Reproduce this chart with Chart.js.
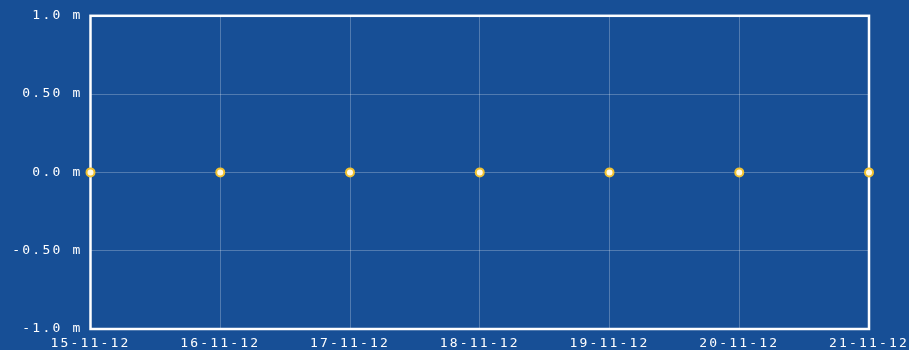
<!DOCTYPE html>
<html>
<head>
<meta charset="utf-8">
<script src="https://cdn.jsdelivr.net/npm/chart.js@4"></script>
<style>
  html, body { margin: 0; padding: 0; background: #174f96; }
  #wrap { width: 909px; height: 350px; }
</style>
</head>
<body>
<div id="wrap"><canvas id="grafico"></canvas></div>
<script>
const fechas = ["15-11-12", "16-11-12", "17-11-12", "18-11-12", "19-11-12", "20-11-12", "21-11-12"];
const altura = [0, 0, 0, 0, 0, 0, 0];
const valoresY = [-1, -0.5, 0, 0.5, 1];
const etiquetasY = ["-1.0 m", "-0.50 m", "0.0 m", "0.50 m", "1.0 m"];

const fuente = { family: "'DejaVu Sans Mono', monospace", size: 13 };

const marco = {
    id: 'marco',
    beforeDraw(chart) {
        chart.ctx.letterSpacing = '2.2px';
    },
    beforeDatasetsDraw(chart) {
        const { ctx, chartArea } = chart;
        ctx.save();
        ctx.strokeStyle = '#ffffff';
        ctx.lineWidth = 2.5;
        ctx.strokeRect(chartArea.left, chartArea.top, chartArea.right - chartArea.left, chartArea.bottom - chartArea.top);
        ctx.restore();
    }
};

const config = {
    type: 'line',
    data: {
        labels: fechas,
        datasets: [{
            data: altura,
            borderColor: 'rgba(0,0,0,0)',
            showLine: false,
            pointRadius: 4,
            pointBorderWidth: 2,
            pointBorderColor: '#f2c230',
            pointBackgroundColor: '#fffbe8'
        }]
    },
    options: {
        responsive: true,
        maintainAspectRatio: false,
        animation: false,
        layout: { padding: { top: 14, right: 40, left: 0, bottom: 0 } },
        plugins: {
            legend: { display: false },
            tooltip: { enabled: false }
        },
        scales: {
            x: {
                type: 'category',
                offset: false,
                grid: { color: 'rgba(255,255,255,0.25)', drawTicks: false },
                border: { display: false },
                ticks: { color: '#ffffff', font: fuente, padding: 7, maxRotation: 0, autoSkip: false },
                afterFit(scale) { scale.height = 21; }
            },
            y: {
                min: -1,
                max: 1,
                grid: { color: 'rgba(255,255,255,0.25)', drawTicks: false },
                border: { display: false },
                ticks: {
                    color: '#ffffff',
                    font: fuente,
                    padding: 8,
                    stepSize: 0.5,
                    callback: (v) => {
                        const i = valoresY.findIndex(x => Math.abs(x - v) < 1e-9);
                        return i >= 0 ? etiquetasY[i] : '';
                    }
                },
                afterFit(scale) { scale.width = 90.5; }
            }
        }
    },
    plugins: [marco]
};

const grafico = new Chart(document.getElementById('grafico'), config);
</script>
</body>
</html>
